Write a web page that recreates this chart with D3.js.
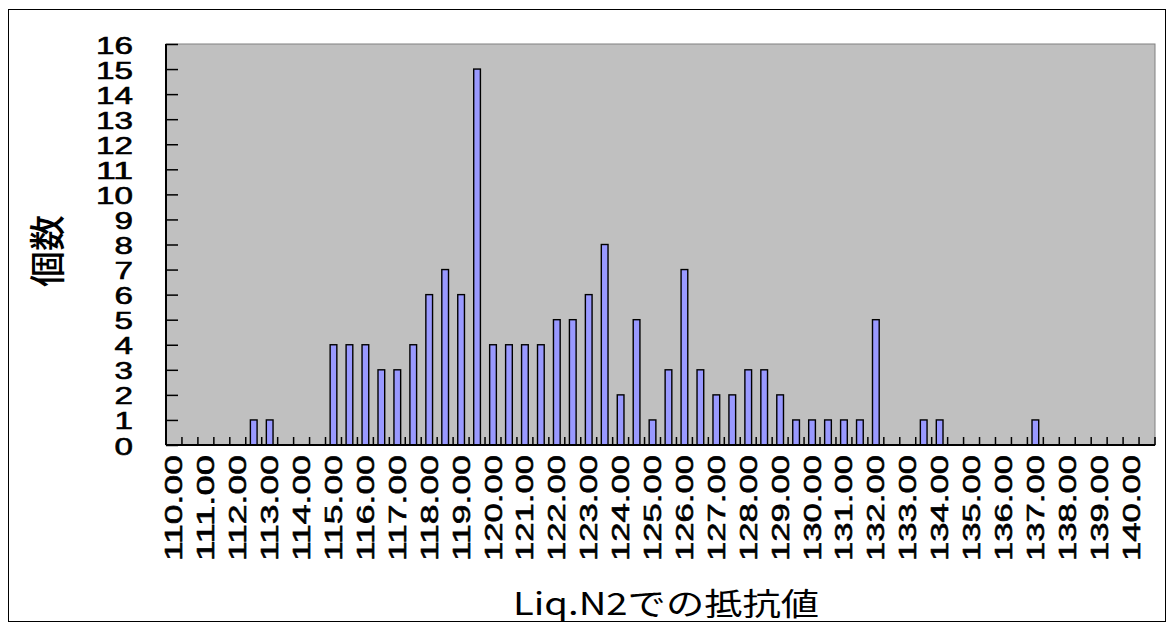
<!DOCTYPE html>
<html><head><meta charset="utf-8">
<script src="https://cdn.jsdelivr.net/npm/d3@7"></script>
<style>
html,body{margin:0;padding:0;background:#fff;}
svg text{font-family:"Liberation Sans",Arial,sans-serif;fill:#000;}
</style>
</head><body>
<svg id="chart" width="1168" height="624"></svg>
<script>
// Bin upper limits (categories) and counts
const bins = ["110.00","110.50","111.00","111.50","112.00","112.50","113.00","113.50","114.00","114.50",
  "115.00","115.50","116.00","116.50","117.00","117.50","118.00","118.50","119.00","119.50",
  "120.00","120.50","121.00","121.50","122.00","122.50","123.00","123.50","124.00","124.50",
  "125.00","125.50","126.00","126.50","127.00","127.50","128.00","128.50","129.00","129.50",
  "130.00","130.50","131.00","131.50","132.00","132.50","133.00","133.50","134.00","134.50",
  "135.00","135.50","136.00","136.50","137.00","137.50","138.00","138.50","139.00","139.50",
  "140.00","次の級"];
const counts = [0,0,0,0,0,1,1,0,0,0,
  4,4,4,3,3,4,6,7,6,15,
  4,4,4,4,5,5,6,8,2,5,
  1,3,7,3,2,2,3,3,2,1,
  1,1,1,1,5,0,0,1,1,0,
  0,0,0,0,1,0,0,0,0,0,
  0,0];
const xTickLabels = ["110.00","111.00","112.00","113.00","114.00","115.00","116.00","117.00","118.00","119.00",
  "120.00","121.00","122.00","123.00","124.00","125.00","126.00","127.00","128.00","129.00",
  "130.00","131.00","132.00","133.00","134.00","135.00","136.00","137.00","138.00","139.00","140.00"];
const yTicks = [0,1,2,3,4,5,6,7,8,9,10,11,12,13,14,15,16];
const xTitle = "Liq.N2での抵抗値";
const yTitle = "個数";

const svg = d3.select("#chart");
const L = 166, R = 1155, T = 44, B = 445;

svg.append("rect").attr("x",8.5).attr("y",9.5).attr("width",1157).attr("height",612)
  .attr("fill","#fff").attr("stroke","#000").attr("stroke-width",1);

const x = d3.scaleBand().domain(bins).range([L,R]).paddingInner(0).paddingOuter(0);
const y = d3.scaleLinear().domain([0,16]).range([B,T]);

// plot background
svg.append("rect").attr("x",L).attr("y",T).attr("width",R-L).attr("height",B-T)
  .attr("fill","#C0C0C0").attr("stroke","#808080").attr("stroke-width",1);

// bars
const bw = x.bandwidth()*0.42;
svg.append("g").selectAll("rect").data(bins.map((b,i)=>({b,v:counts[i]})).filter(d=>d.v>0))
  .join("rect")
  .attr("x",d=>x(d.b)+x.bandwidth()/2-bw/2)
  .attr("y",d=>y(d.v))
  .attr("width",bw)
  .attr("height",d=>y(0)-y(d.v))
  .attr("fill","#9999FF").attr("stroke","#000").attr("stroke-width",1.4);

// y axis (ticks inside)
const yAxis = d3.axisRight(y).tickValues(yTicks).tickSize(12).tickFormat("");
const gy = svg.append("g").attr("transform",`translate(${L},0)`).call(yAxis);
gy.selectAll("line").attr("stroke","#000").attr("stroke-width",1.5);
gy.select(".domain").attr("stroke","#000").attr("stroke-width",2).attr("d",`M0,${T}V${B}`);

svg.append("g").selectAll("text").data(yTicks).join("text")
  .attr("x",133).attr("y",d=>y(d)+1).attr("text-anchor","end").attr("dominant-baseline","central")
  .attr("font-size",24)
  .attr("stroke","#000").attr("stroke-width",0.6)
  .attr("textLength",d=>String(d).length*18.5).attr("lengthAdjust","spacingAndGlyphs")
  .text(d=>d);

// x axis: ticks at category boundaries, pointing up
const boundaries = d3.range(bins.length+1).map(i=>i<bins.length? x(bins[i]) : R);
const gx = svg.append("g");
gx.selectAll("line").data(boundaries).join("line")
  .attr("x1",d=>d).attr("x2",d=>d).attr("y1",B).attr("y2",B-8)
  .attr("stroke","#000").attr("stroke-width",1.5);
gx.append("line").attr("x1",L).attr("x2",R).attr("y1",B).attr("y2",B)
  .attr("stroke","#000").attr("stroke-width",2);

// x tick labels rotated
svg.append("g").selectAll("text").data(xTickLabels).join("text")
  .attr("transform",d=>`translate(${x(d)+x.bandwidth()/2},455) rotate(-90)`)
  .attr("text-anchor","end").attr("dominant-baseline","central")
  .attr("font-size",24)
  .attr("stroke","#000").attr("stroke-width",0.6)
  .attr("textLength",106).attr("lengthAdjust","spacingAndGlyphs")
  .text(d=>d);

// axis titles
svg.append("text").attr("x",666).attr("y",601).attr("text-anchor","middle")
  .attr("dominant-baseline","central")
  .style("font-family","'Noto Sans CJK JP',sans-serif").attr("font-size",31)
  .attr("textLength",306).attr("lengthAdjust","spacingAndGlyphs")
  .text(xTitle);
svg.append("text").attr("transform","translate(45,251) rotate(-90)")
  .attr("text-anchor","middle").attr("dominant-baseline","central")
  .style("font-family","'Noto Sans CJK JP',sans-serif").attr("font-size",36).attr("font-weight",500)
  .text(yTitle);
</script>
</body></html>
